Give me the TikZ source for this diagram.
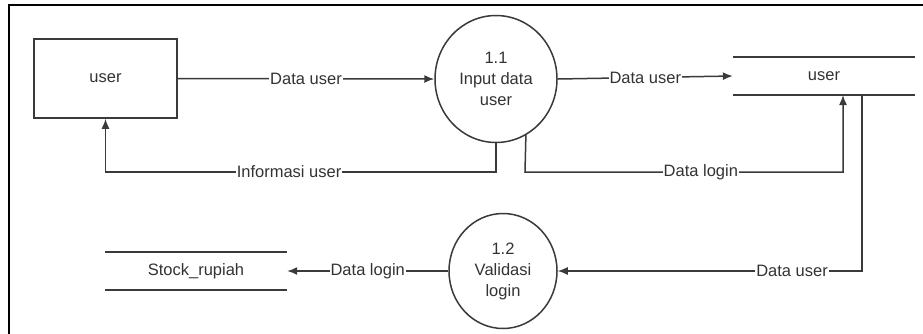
\documentclass[tikz,border=0pt]{standalone}
\usepackage{fontspec}
\setmainfont{Liberation Sans}
\usetikzlibrary{shapes.geometric,arrows.meta}
\definecolor{ln}{HTML}{3A3A3A}
\definecolor{tx}{HTML}{333333}
\begin{document}
\begin{tikzpicture}[x=1pt,y=-1pt,
  every node/.style={font=\fontsize{16.5}{21}\selectfont, text=tx},
  entity/.style={draw=ln, line width=1.5pt, minimum width=143pt, minimum height=79pt, inner sep=0pt},
  proc/.style={ellipse, draw=ln, line width=1.5pt, fill=white, align=center, inner sep=0pt},
  store/.style={minimum width=182pt, minimum height=38pt, inner sep=0pt},
  storeline/.style={draw=ln, line width=1.5pt},
  flow/.style={draw=ln, line width=1.5pt, -{Latex[length=10pt,width=8pt]}},
  lbl/.style={fill=white, inner sep=1pt}]
\useasboundingbox (0,0) rectangle (923,333);
\clip (0,0) rectangle (923,333);
\fill[white] (0,0) rectangle (923,333);
\draw[line width=2.5pt, black] (9,400) -- (9,5) -- (1000,5);

\node[entity] (u) at (105.5,78.5) {user};
\node[proc, minimum width=122pt, minimum height=127pt] (p1) at (496,79) {1.1\\Input data\\user};
\node[store] (s1) at (824,76) {user};
\node[proc, minimum width=108pt, minimum height=115pt] (p2) at (503,271) {1.2\\Validasi\\login};
\node[store] (s2) at (196,271) {Stock\_rupiah};

\draw[storeline] (s1.north west) -- (s1.north east) (s1.south west) -- (s1.south east);
\draw[storeline] (s2.north west) -- (s2.north east) (s2.south west) -- (s2.south east);

\coordinate (i1) at (496,172);
\coordinate (i2) at (105.5,172);
\coordinate (d1) at (525,172);
\coordinate (d2) at (843,172);
\coordinate (d3) at (843,95);
\coordinate (v1) at (862,95);
\coordinate (v2) at (862,271);

\draw[flow] (u.east) -- node[lbl]{Data user} (p1.west);
\draw[flow] (p1.east) -- node[lbl]{Data user} (s1.west);
\draw[flow] (p1.south) -- (i1) -- node[lbl, pos=0.53]{Informasi user} (i2) -- (u.south);
\draw[flow] (p1.-62.6) -- (d1) -- node[lbl, pos=0.553]{Data login} (d2) -- (d3);
\draw[flow] (v1) -- (v2) -- node[lbl, pos=0.23]{Data user} (p2.east);
\draw[flow] (p2.west) -- node[lbl]{Data login} (s2.east);
\end{tikzpicture}
\end{document}
